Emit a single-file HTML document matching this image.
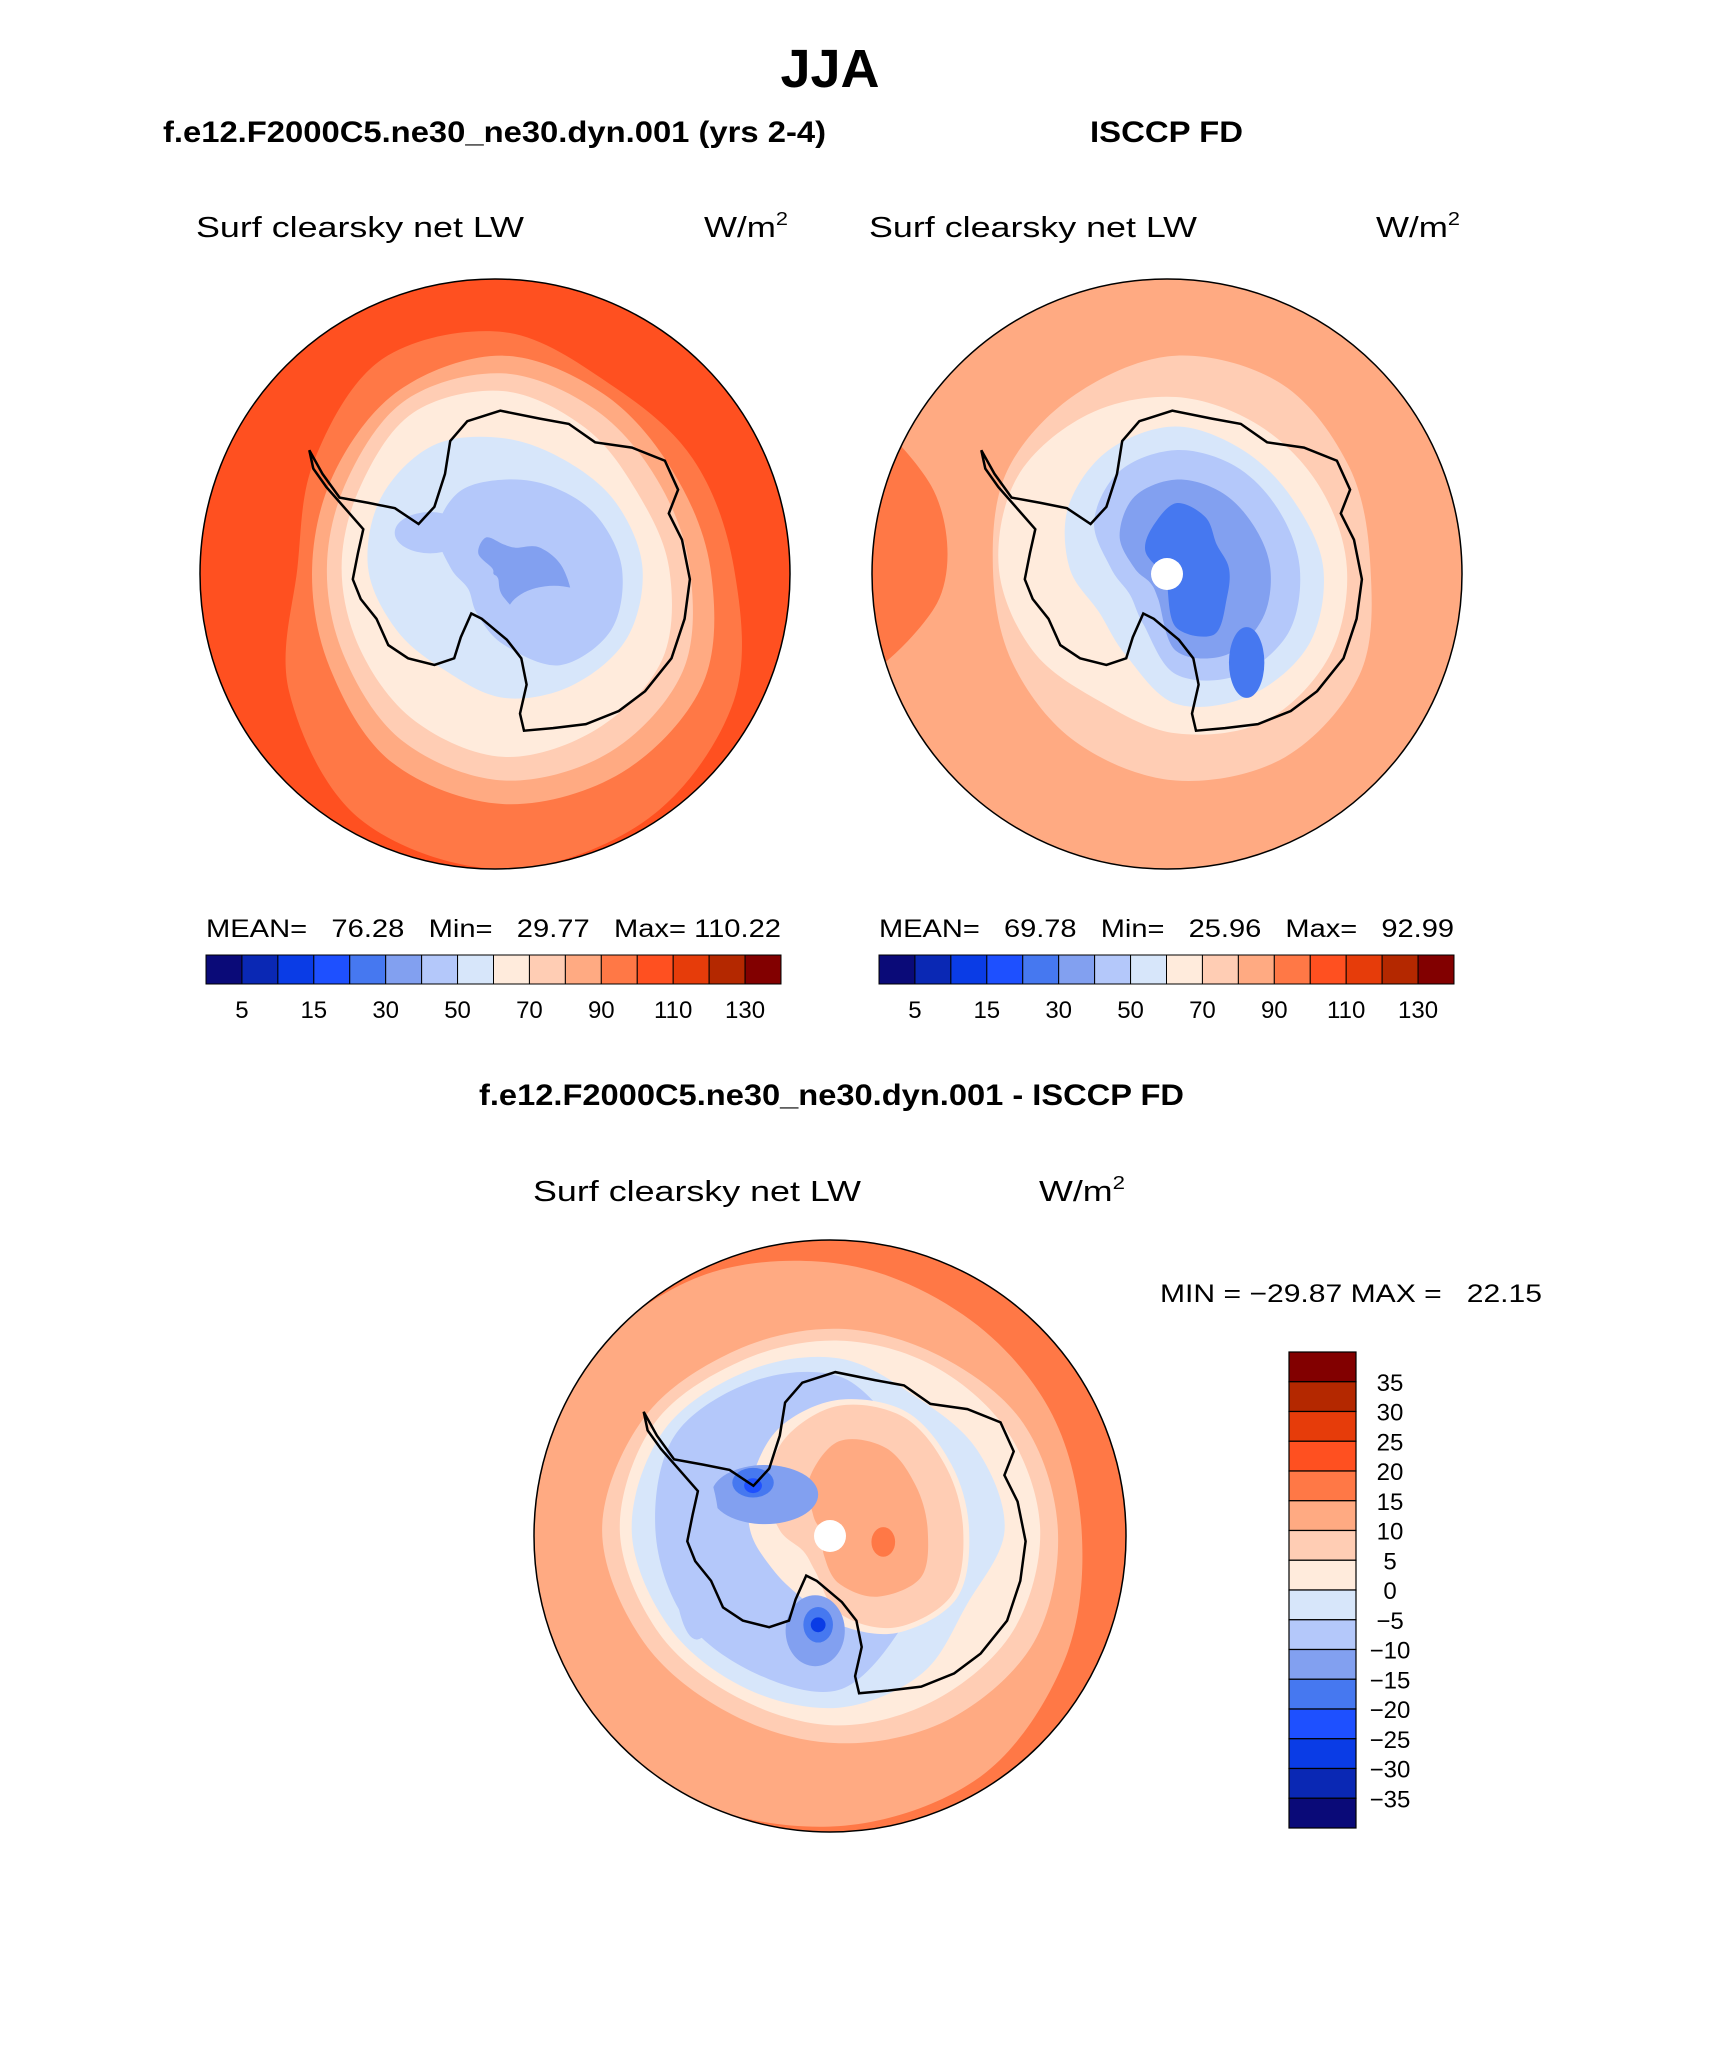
<!DOCTYPE html>
<html><head><meta charset="utf-8"><style>
html,body{margin:0;padding:0;background:#fff;}
svg{display:block;font-family:"Liberation Sans",sans-serif;}
</style></head><body>
<svg id="fig" width="1710" height="2061" viewBox="0 0 1710 2061" xmlns="http://www.w3.org/2000/svg">
<rect width="1710" height="2061" fill="#fff"/>
<text x="830" y="87" font-size="54" font-weight="bold" text-anchor="middle">JJA</text>
<text x="163" y="142" font-size="30" font-weight="bold" textLength="663" lengthAdjust="spacingAndGlyphs">f.e12.F2000C5.ne30_ne30.dyn.001 (yrs 2-4)</text>
<text x="1090" y="142" font-size="30" font-weight="bold" textLength="153" lengthAdjust="spacingAndGlyphs">ISCCP FD</text>
<text x="196" y="237" font-size="29" textLength="328" lengthAdjust="spacingAndGlyphs">Surf clearsky net LW</text>
<text x="704" y="237" font-size="29" textLength="84" lengthAdjust="spacingAndGlyphs">W/m<tspan font-size="18" dy="-12">2</tspan></text>
<text x="869" y="237" font-size="29" textLength="328" lengthAdjust="spacingAndGlyphs">Surf clearsky net LW</text>
<text x="1376" y="237" font-size="29" textLength="84" lengthAdjust="spacingAndGlyphs">W/m<tspan font-size="18" dy="-12">2</tspan></text>
<text x="206" y="937" font-size="25" textLength="575" lengthAdjust="spacingAndGlyphs" xml:space="preserve">MEAN=   76.28   Min=   29.77   Max= 110.22</text>
<text x="879" y="937" font-size="25" textLength="575" lengthAdjust="spacingAndGlyphs" xml:space="preserve">MEAN=   69.78   Min=   25.96   Max=   92.99</text>
<text x="479" y="1105" font-size="30" font-weight="bold" textLength="705" lengthAdjust="spacingAndGlyphs">f.e12.F2000C5.ne30_ne30.dyn.001 - ISCCP FD</text>
<text x="533" y="1201" font-size="29" textLength="328" lengthAdjust="spacingAndGlyphs">Surf clearsky net LW</text>
<text x="1039" y="1201" font-size="29" textLength="86" lengthAdjust="spacingAndGlyphs">W/m<tspan font-size="18" dy="-12">2</tspan></text>
<text x="1160" y="1302" font-size="25" textLength="382" lengthAdjust="spacingAndGlyphs" xml:space="preserve">MIN = −29.87 MAX =   22.15</text>
<g id="maps"></g>
</svg>
<script>
const colors = ["#0a0a78","#0a28b4","#0a3ce6","#1e50ff","#4678f0","#82a0f0","#b4c8fa","#d7e6fa","#ffebdc","#ffcdb4","#ffaa82","#ff7846","#ff5020","#e63c0a","#b42800","#820000"];
const absLevels = [5,10,15,20,30,40,50,60,70,80,90,100,110,120,130];
const absTickLabels = ["5","15","30","50","70","90","110","130"];
const diffLevels = [35,30,25,20,15,10,5,0,-5,-10,-15,-20,-25,-30,-35];
const leftLayers = [
 [11,[0.78,0.90,0.98,1.02,0.98,0.84,0.70,0.74,0.82,0.80,0.72,0.74]],
 [10,[0.70,0.78,0.80,0.80,0.76,0.68,0.65,0.66,0.70,0.72,0.68,0.66]],
 [9,[0.63,0.70,0.72,0.72,0.68,0.62,0.60,0.61,0.66,0.66,0.62,0.60]],
 [8,[0.56,0.62,0.63,0.64,0.60,0.56,0.55,0.56,0.61,0.60,0.55,0.52]],
 [7,[0.47,0.48,0.46,0.44,0.40,0.42,0.46,0.48,0.48,0.44,0.42,0.44]],
 [6,[0.40,0.42,0.38,0.26,0.18,0.14,0.18,0.26,0.30,0.30,0.32,0.36]],
 [5,[0.20,0.26,0.22,0.10,0.04,0.04,0.04,0.10,0.12,0.08,0.08,0.14]]
];
const rightLayers = [
 [9,[0.66,0.72,0.74,0.72,0.68,0.64,0.62,0.66,0.68,0.72,0.72,0.68]],
 [8,[0.58,0.60,0.60,0.56,0.52,0.56,0.60,0.62,0.60,0.58,0.56,0.56]],
 [7,[0.50,0.52,0.50,0.46,0.34,0.30,0.36,0.42,0.46,0.48,0.46,0.46]],
 [6,[0.42,0.44,0.42,0.36,0.22,0.18,0.22,0.32,0.38,0.40,0.40,0.40]],
 [5,[0.32,0.34,0.34,0.28,0.12,0.10,0.14,0.22,0.28,0.30,0.30,0.30]],
 [4,[0.18,0.20,0.26,0.20,0.06,0.04,0.06,0.12,0.16,0.22,0.20,0.16]]
];
const diffLayers = [
 [10,[0.82,0.88,0.96,1.00,1.04,1.06,1.08,1.04,0.98,0.90,0.84,0.82]],
 [9,[0.74,0.76,0.74,0.72,0.72,0.76,0.80,0.76,0.70,0.68,0.68,0.72]],
 [8,[0.68,0.68,0.66,0.66,0.66,0.70,0.74,0.72,0.66,0.64,0.64,0.66]],
 [7,[0.56,0.50,0.56,0.60,0.62,0.66,0.70,0.68,0.62,0.58,0.52,0.54]],
 [6,[0.40,0.30,0.40,0.54,0.56,0.60,0.62,0.64,0.58,0.52,0.40,0.40]],
 [8,[0.44,0.46,0.40,0.32,0.26,0.26,0.30,0.34,0.40,0.44,0.46,0.44]],
 [9,[0.42,0.44,0.38,0.28,0.16,0.14,0.20,0.28,0.36,0.42,0.44,0.42]],
 [10,[0.30,0.32,0.26,0.18,0.10,0.06,0.06,0.10,0.20,0.30,0.32,0.30]]
];
const leftBlobs = [[6,-0.22,-0.14,0.12,0.07],[6,0.20,0.14,0.16,0.10],[6,0.30,-0.10,0.05,0.08]];
const rightBlobs = [[4,0.27,0.30,0.06,0.12]];
const diffBlobs = [[5,-0.22,-0.14,0.18,0.10],[4,-0.26,-0.18,0.07,0.05],[3,-0.26,-0.17,0.03,0.025],[5,-0.05,0.32,0.10,0.12],[4,-0.04,0.30,0.05,0.06],[2,-0.04,0.30,0.025,0.025],[6,-0.45,0.05,0.08,0.30],[10,0.24,0.02,0.08,0.10],[11,0.18,0.02,0.04,0.05]];
const maps = [
 {name:"model-map",cx:495,cy:574,r:295,layers:leftLayers,blobs:leftBlobs,base:12,side:null,dot:false},
 {name:"obs-map",cx:1167,cy:574,r:295,layers:rightLayers,blobs:rightBlobs,base:10,side:11,dot:true},
 {name:"diff-map",cx:830,cy:1536,r:296,layers:diffLayers,blobs:diffBlobs,base:11,side:null,dot:true}
];
const coast = [[235,342],[245,360],[258,378],[280,382],[300,386],[318,398],[330,385],[338,360],[342,335],[355,320],[380,312],[410,318],[432,322],[452,336],[480,340],[505,350],[515,372],[508,390],[518,410],[524,440],[520,470],[510,500],[490,525],[470,540],[445,550],[420,553],[398,555],[395,542],[400,520],[396,500],[385,486],[366,470],[358,466],[350,484],[345,500],[330,505],[310,500],[295,490],[286,470],[274,455],[268,440],[272,420],[276,402],[262,386],[248,370],[238,356]];
const NS="http://www.w3.org/2000/svg";
const root=document.getElementById("maps");
function mk(t,a,p){const e=document.createElementNS(NS,t);for(const k in a)e.setAttribute(k,a[k]);(p||root).appendChild(e);return e;}
function smooth(pts){let d="M"+pts[0][0].toFixed(1)+","+pts[0][1].toFixed(1);const n=pts.length;
 for(let i=0;i<n;i++){const p0=pts[(i-1+n)%n],p1=pts[i],p2=pts[(i+1)%n],p3=pts[(i+2)%n];
  d+=" C"+(p1[0]+(p2[0]-p0[0])/6).toFixed(1)+","+(p1[1]+(p2[1]-p0[1])/6).toFixed(1)+" "+(p2[0]-(p3[0]-p1[0])/6).toFixed(1)+","+(p2[1]-(p3[1]-p1[1])/6).toFixed(1)+" "+p2[0].toFixed(1)+","+p2[1].toFixed(1);}
 return d+"Z";}
maps.forEach((m,mi)=>{
 const g=mk("g",{});
 
 
 const cp=mk("clipPath",{id:"clip"+mi},g);mk("circle",{cx:m.cx,cy:m.cy,r:m.r},cp);
 const inner=mk("g",{"clip-path":"url(#clip"+mi+")"},g);
 const bg=mk("circle",{cx:m.cx,cy:m.cy,r:m.r,fill:colors[m.base]},inner);
 
 
 if(m.side!==null){
  const side=mk("path",{d:smooth([[m.cx-m.r*1.15,m.cy-m.r*0.55],[m.cx-m.r*0.8,m.cy-m.r*0.3],[m.cx-m.r*0.78,m.cy+m.r*0.1],[m.cx-m.r*1.15,m.cy+m.r*0.35]]),fill:colors[m.side]},inner);
  
  
 }
 m.layers.forEach(([ci,rad])=>{
  const pts=rad.map((f,i)=>{const a=i*Math.PI/6;return [m.cx+0.03*m.r+f*m.r*Math.cos(a),m.cy-0.02*m.r+f*m.r*Math.sin(a)];});
  const p=mk("path",{d:smooth(pts),fill:colors[ci]},inner);
  
  
 });
 m.blobs.forEach(([ci,dx,dy,rx,ry])=>{
  const b=mk("ellipse",{cx:m.cx+dx*m.r,cy:m.cy+dy*m.r,rx:rx*m.r,ry:ry*m.r,fill:colors[ci]},inner);
  
  
 });
 const cpts=coast.map(([x,y])=>[m.cx+(x-376)/224*m.r,m.cy+(y-436)/224*m.r]);
 const cl=mk("path",{d:"M"+cpts.map(p=>p[0].toFixed(1)+","+p[1].toFixed(1)).join(" L")+"Z",fill:"none",stroke:"#000","stroke-width":2.5},inner);
 
 
 if(m.dot){const d=mk("circle",{cx:m.cx,cy:m.cy,r:16,fill:"#fff"},inner);
  
  }
 const o=mk("circle",{cx:m.cx,cy:m.cy,r:m.r,fill:"none",stroke:"#000","stroke-width":1.5},g);
 
 
});
[206,879].forEach((x0,bi)=>{
 const w=575,h=29,y0=955,bw=w/colors.length;
 const g=mk("g",{});
 
 
 colors.forEach((c,i)=>{const r=mk("rect",{x:x0+i*bw,y:y0,width:bw,height:h,fill:c,stroke:"#000","stroke-width":1},g);
  
  });
 absLevels.forEach((v,i)=>{const s=String(v);if(absTickLabels.indexOf(s)<0||i%2)return;
  const t=mk("text",{x:x0+(i+1)*bw,y:1018,"font-size":24,"text-anchor":"middle"},g);t.textContent=s;
  
  });
});
(function(){
 const x0=1289,w=67,y0=1352,h=476,bh=h/colors.length;
 const g=mk("g",{});
 
 
 colors.slice().reverse().forEach((c,i)=>{const r=mk("rect",{x:x0,y:y0+i*bh,width:w,height:bh,fill:c,stroke:"#000","stroke-width":1.2},g);
  
  });
 diffLevels.forEach((v,i)=>{const t=mk("text",{x:1390,y:y0+(i+1)*bh+9,"font-size":24,"text-anchor":"middle"},g);
  t.textContent=v<0?"−"+(-v):String(v);
  
  });
})();
</script>
</body></html>
